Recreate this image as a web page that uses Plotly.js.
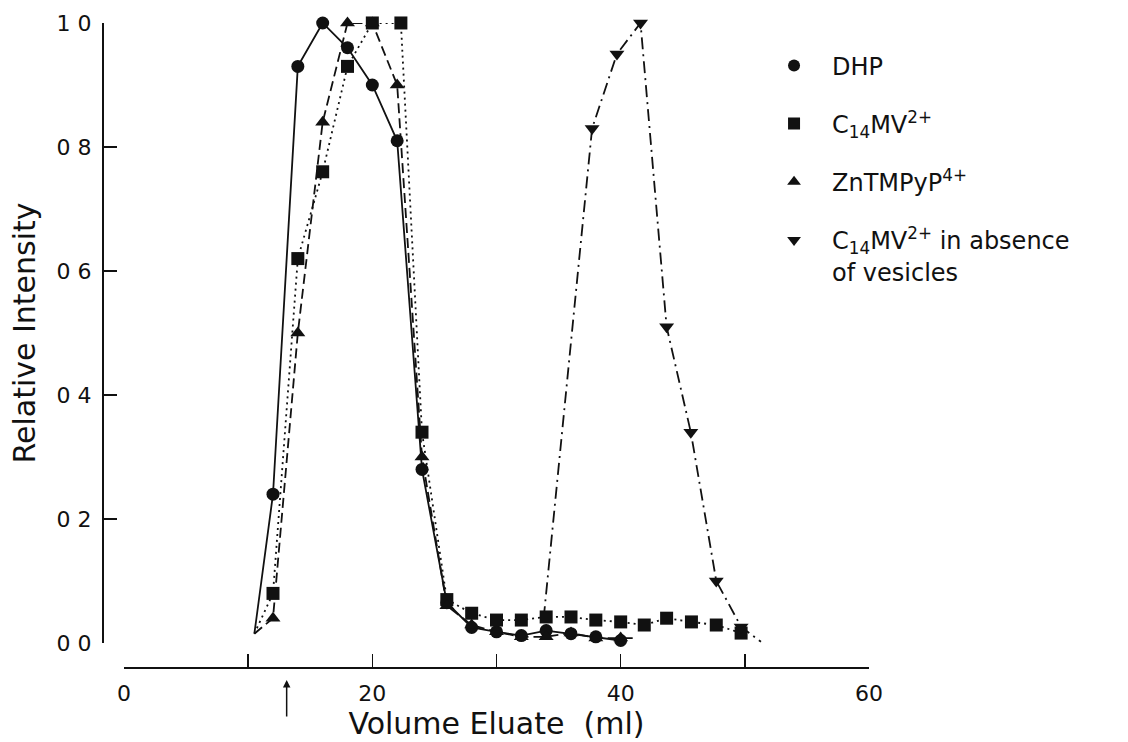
<!DOCTYPE html>
<html><head><meta charset="utf-8">
<script src="https://cdn.plot.ly/plotly-3.0.1.min.js"></script>
<style>html,body{margin:0;padding:0;background:#fff}#chart{width:1128px;height:742px}</style>
</head><body><div id="chart"></div>
<script>
// Volume eluate (ml) and relative intensity
const dhpX = [10.5, 12, 14, 16, 18, 20, 22, 24, 26, 28, 30, 32, 34, 36, 38, 40];
const dhpY = [0.015, 0.24, 0.93, 1.0, 0.96, 0.90, 0.81, 0.28, 0.065, 0.025, 0.018, 0.012, 0.02, 0.015, 0.01, 0.004];

const c14X = [10.5, 12, 14, 16, 18, 20, 22.3, 24, 26, 28, 30, 32, 34, 36, 38, 40, 41.9, 43.7, 45.7, 47.7, 49.7];
const c14Y = [0.015, 0.08, 0.62, 0.76, 0.93, 1.0, 1.0, 0.34, 0.07, 0.048, 0.037, 0.037, 0.042, 0.042, 0.037, 0.034, 0.029, 0.040, 0.034, 0.029, 0.016];

const znX = [10.5, 12, 14, 16, 18, 20, 22, 24, 26, 28, 30, 32, 34, 36, 38, 40, 41.3];
const znY = [0.015, 0.04, 0.50, 0.84, 1.0, 1.0, 0.90, 0.30, 0.06, 0.029, 0.018, 0.01, 0.01, 0.016, 0.008, 0.008, 0.008];

const absX = [33.8, 37.7, 39.7, 41.6, 43.7, 45.65, 47.7, 49.7, 51.3];
const absY = [0.04, 0.83, 0.95, 1.0, 0.51, 0.34, 0.10, 0.026, 0.002];

const seriesNames = [
  'DHP',
  'C<sub>14</sub>MV<sup>2+</sup>',
  'ZnTMPyP<sup>4+</sup>',
  'C<sub>14</sub>MV<sup>2+</sup> in absence<br>of vesicles'
];

const xTickVals = [0, 20, 40, 60];
const xTickText = ['0', '20', '40', '60'];
const xMinorStep = 10;
const yTickVals = [0, 0.2, 0.4, 0.6, 0.8, 1.0];
const yTickText = ['0 0', '0 2', '0 4', '0 6', '0 8', '1 0'];

const ink = '#111111';
const FONT = 'DejaVu Sans, Liberation Sans, sans-serif';

function sizes(arr, hideFirst, hideLast) {
  return arr.map((_, i) => ((hideFirst && i === 0) || (hideLast && i === arr.length - 1)) ? 0 : 13);
}

const specs = [
  {x: dhpX, y: dhpY, name: seriesNames[0], symbol: 'circle', dash: 'solid', hf: true, hl: false},
  {x: c14X, y: c14Y, name: seriesNames[1], symbol: 'square', dash: '2px,4px', hf: true, hl: false},
  {x: znX, y: znY, name: seriesNames[2], symbol: 'triangle-up', dash: '10px,5px', hf: true, hl: true},
  {x: absX, y: absY, name: seriesNames[3], symbol: 'triangle-down', dash: '12px,5px,2px,5px', hf: true, hl: true}
];

const traces = [];
specs.forEach((s) => {
  traces.push({
    x: s.x, y: s.y, type: 'scatter', mode: 'lines', showlegend: false,
    line: {color: ink, width: 1.8, dash: s.dash}, hoverinfo: 'skip'
  });
});
specs.forEach((s, k) => {
  traces.push({
    x: s.x, y: s.y, type: 'scatter', mode: 'markers', name: s.name,
    legendgroup: 'g' + k, cliponaxis: false,
    marker: {symbol: s.symbol, color: ink, opacity: 1, size: sizes(s.x, s.hf, s.hl), line: {width: 0}}
  });
});

const layout = {
  width: 1128, height: 742,
  margin: {l: 100, r: 258, t: 20, b: 75, autoexpand: false},
  paper_bgcolor: '#fff', plot_bgcolor: '#fff',
  font: {family: FONT, color: ink, size: 21},
  showlegend: true,
  legend: {
    x: 0.852, xanchor: 'left', y: 0.964, yanchor: 'top',
    bgcolor: 'rgba(0,0,0,0)', font: {size: 24, family: FONT, color: ink},
    tracegroupgap: 24, itemwidth: 66, valign: 'top', itemsizing: 'constant'
  },
  xaxis: {
    range: [0, 60], domain: [0.03117, 0.9987], anchor: 'free', position: 0,
    showline: true, linecolor: ink, linewidth: 1.6, showgrid: false, zeroline: false,
    ticks: 'inside', ticklen: 13, tickwidth: 1.6, tickcolor: ink,
    tickmode: 'array', tickvals: xTickVals, ticktext: xTickText,
    minor: {dtick: xMinorStep, tick0: 0, ticks: 'inside', ticklen: 13, tickwidth: 1.6, tickcolor: ink, showgrid: false},
    tickfont: {size: 22}, ticklabelstandoff: 6,
    title: {text: 'Volume Eluate  (ml)', font: {size: 30}, standoff: 8}
  },
  yaxis: {
    range: [0, 1], domain: [0.0371, 0.9954], anchor: 'free', position: 0.0026,
    showline: true, linecolor: ink, linewidth: 1.6, showgrid: false, zeroline: false,
    ticks: 'inside', ticklen: 13, tickwidth: 1.6, tickcolor: ink,
    tickmode: 'array', tickvals: yTickVals, ticktext: yTickText,
    tickfont: {size: 22}, ticklabelstandoff: 6,
    title: {text: 'Relative Intensity', font: {size: 30}, standoff: 10}
  },
  annotations: [{
    x: 13.1, xref: 'x', y: -0.02, yref: 'paper', text: '',
    showarrow: true, ax: 0, ay: 38, arrowhead: 2, arrowsize: 1, arrowwidth: 1.5, arrowcolor: ink
  }]
};

Plotly.newPlot('chart', traces, layout, {displayModeBar: false, staticPlot: true});
</script></body></html>
